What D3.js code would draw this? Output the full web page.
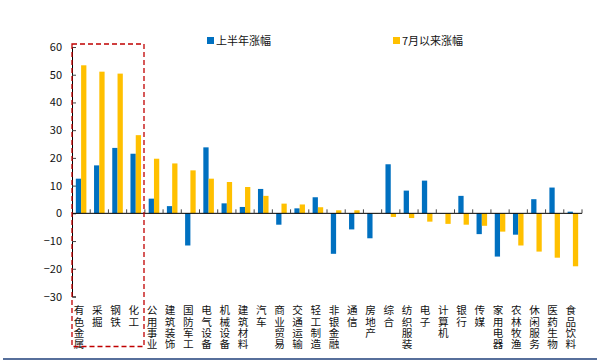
<!DOCTYPE html>
<html>
<head>
<meta charset="utf-8">
<script src="https://cdn.jsdelivr.net/npm/d3@7"></script>
<style>
  body { margin: 0; background: #fff; }
  text { font-family: "Noto Sans CJK SC", "Noto Sans", sans-serif; fill: #111; }
</style>
</head>
<body>
<script>
let W = 597, H = 362;

// industries (申万一级)
let categories = ["有色金属","采掘","钢铁","化工","公用事业","建筑装饰","国防军工","电气设备","机械设备","建筑材料","汽车","商业贸易","交通运输","轻工制造","非银金融","通信","房地产","综合","纺织服装","电子","计算机","银行","传媒","家用电器","农林牧渔","休闲服务","医药生物","食品饮料"];
let firstHalf = [12.5,17.3,23.6,21.5,5.3,2.6,-11.6,23.8,3.6,2.3,8.8,-4.1,1.8,5.8,-14.6,-5.8,-9.0,17.7,8.2,11.8,0.1,6.3,-7.5,-15.6,-7.7,5.1,9.3,0.6];
let sinceJuly = [53.4,51.1,50.4,28.2,19.7,18.0,15.5,12.5,11.3,9.5,6.3,3.5,3.2,2.2,1.1,1.1,0.1,-1.3,-1.7,-3.0,-3.8,-4.1,-4.5,-6.6,-11.6,-13.8,-16.0,-19.1];
let seriesNames = ["上半年涨幅","7月以来涨幅"];
let colors = ["#0070C0","#FFC000"];
let yTicks = [-30,-20,-10,0,10,20,30,40,50,60];

let svg = d3.select("body").append("svg").attr("width",W).attr("height",H);

let x0 = d3.scaleBand().domain(categories).range([72,582]).paddingInner(0.42).paddingOuter(0.21);
let x1 = d3.scaleBand().domain([0,1]).range([0,x0.bandwidth()]);
let y = d3.scaleLinear().domain([-30,60]).range([296.5,47]);

// y axis
let yAxis = svg.append("g").attr("transform","translate(72,0)")
  .call(d3.axisLeft(y).tickValues(yTicks).tickSize(-4).tickPadding(10));
yAxis.select(".domain").attr("stroke","#000");
yAxis.selectAll(".tick line").attr("stroke","#444");
yAxis.selectAll("text").style("font-size","11px").attr("fill","#111");

// bars
let rows = categories.map((c,i)=>({c:c, v:[firstHalf[i],sinceJuly[i]]}));
let groups = svg.selectAll("g.cat").data(rows).enter().append("g")
  .attr("class","cat")
  .attr("transform",(d)=>"translate("+x0(d.c)+",0)");
groups.selectAll("rect")
  .data((d)=>d.v.map((v,k)=>({k:k,v:v})))
  .enter().append("rect")
  .attr("x",(d)=>x1(d.k))
  .attr("width",x1.bandwidth())
  .attr("y",(d)=>y(Math.max(0,d.v)))
  .attr("height",(d)=>Math.abs(y(d.v)-y(0)))
  .attr("fill",(d)=>colors[d.k]);

// x axis at zero, ticks between categories pointing up
let step = x0.step();
let xb = d3.range(categories.length+1).map((i)=>72+i*step);
svg.append("line").attr("x1",72).attr("x2",582).attr("y1",y(0)).attr("y2",y(0))
  .attr("stroke","#000").attr("stroke-width",1);
svg.selectAll("line.xt").data(xb.slice(1)).enter().append("line")
  .attr("class","xt")
  .attr("x1",(d)=>d).attr("x2",(d)=>d)
  .attr("y1",y(0)).attr("y2",y(0)-4)
  .attr("stroke","#444");

// vertical category labels, one char per line
svg.selectAll("text.cl").data(categories).enter().append("text")
  .attr("class","cl")
  .attr("x",(d)=>x0(d)+x0.bandwidth()/2-2)
  .attr("y",305)
  .style("writing-mode","vertical-rl")
  .style("text-orientation","upright")
  .style("letter-spacing","0.6px")
  .style("font-size","10.6px")
  .text((d)=>d);

// highlight box
svg.append("rect").attr("x",72).attr("y",44).attr("width",72).attr("height",302.5)
  .attr("fill","none").attr("stroke","#C00000").attr("stroke-width",1.3)
  .attr("stroke-dasharray","5,3");

// legend
let lx = [207,393];
seriesNames.forEach((s,i)=>{
  svg.append("rect").attr("x",lx[i]).attr("y",37).attr("width",7).attr("height",7).attr("fill",colors[i]);
  svg.append("text").attr("x",lx[i]+9).attr("y",45).style("font-size","11px").text(s);
});

// bottom rule
svg.append("line").attr("x1",3).attr("x2",597).attr("y1",359).attr("y2",359)
  .attr("stroke","#1F3F7A").attr("stroke-width",1.5);
</script>
</body>
</html>
